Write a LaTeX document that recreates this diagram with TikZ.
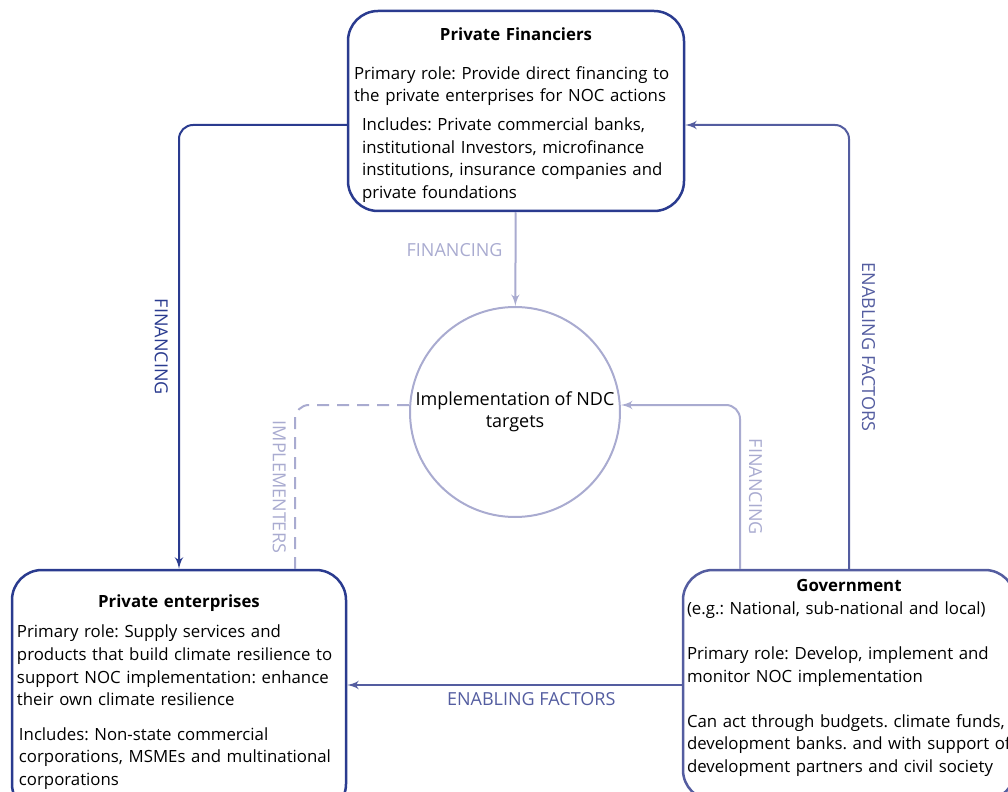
\documentclass[tikz,border=0pt]{standalone}
\usepackage{fontspec}
\setmainfont{Open Sans}
\usetikzlibrary{shapes, arrows, positioning}

\definecolor{navy}{RGB}{42,59,143}
\definecolor{midblue}{RGB}{84,93,160}
\definecolor{lilac}{RGB}{169,171,208}
\frenchspacing

\begin{document}
\begin{tikzpicture}[x=0.5pt, y=-0.5pt, >=latex', font=\fontsize{8.4}{11.3}\selectfont,
  actor/.style={draw=navy, line width=1.25pt, rounded corners=15pt, fill=white, text width=#1, inner sep=0pt},
  flowlbl/.style={font=\fontsize{9}{10}\selectfont, inner sep=4pt}]
  \useasboundingbox (0,0) rectangle (1008,792);
  \clip (0,0) rectangle (1008,792);

  % Akteure: Financiers oben, Enterprises links, Government rechts
  \node[actor=162pt, minimum width=168pt, minimum height=100pt] (fin) at (516,111) {\parindent=0pt
    {\centering\rule{0pt}{10.5pt}\textbf{Private Financiers}\par}\vspace{8pt}
    Primary role: Provide direct financing to\\
    the private enterprises for NOC actions\par\vspace{3pt}
    {\leftskip=4pt Includes: Private commercial banks,\\
    institutional Investors, microfinance\\
    institutions, insurance companies and\\
    private foundations\par}};
  \node[actor=162pt, minimum width=167pt, minimum height=122pt] (ent) at (179,692) {\parindent=0pt
    {\centering\textbf{Private enterprises}\par}\vspace{4pt}
    Primary role: Supply services and\\
    products that build climate resilience to\\
    support NOC implementation: enhance\\
    their own climate resilience\par\vspace{6pt}
    {\leftskip=1pt Includes: Non-state commercial\\
    corporations, MSMEs and multinational\\
    corporations\par}};
  \node[actor=162pt, minimum width=166pt, minimum height=115pt, draw=midblue] (gov) at (849,685) {\parindent=0pt
    {\centering\textbf{Government}\par}
    (e.g.: National, sub-national and local)\par\vspace{11.3pt}
    Primary role: Develop, implement and\\
    monitor NOC implementation\par\vspace{11.3pt}
    Can act through budgets. climate funds,\\
    development banks. and with support of\\
    development partners and civil society\rule[-9pt]{0pt}{9pt}\par};

  % Ziel in der Mitte
  \node[draw=lilac, line width=1pt, circle, minimum size=105pt, inner sep=0pt, align=center, font=\fontsize{9}{11}\selectfont] (ndc) at (515,412) {Implementation of NDC\\targets};

  % Financing flows
  \draw[->, navy, line width=1pt, rounded corners=7pt] ([yshift=-7pt]fin.west) -| node[pos=0.75, rotate=-90, anchor=north, flowlbl, navy, inner sep=5pt]{FINANCING} (ent.north);
  \draw[->, lilac, line width=1pt] (fin) -- node[pos=0.4, left, flowlbl, inner sep=6pt]{FINANCING} (ndc);
  \draw[->, lilac, line width=1pt, rounded corners=7pt] ([xshift=-54.5pt]gov.north) |- node[pos=0.25, rotate=-90, anchor=south, flowlbl]{FINANCING} ([yshift=3.5pt]ndc.east);

  % Enabling factors from government
  \draw[->, midblue, line width=1pt, rounded corners=7pt] (gov.north) |- node[pos=0.25, rotate=-90, anchor=south, flowlbl, inner sep=6pt]{ENABLING FACTORS} ([yshift=-7pt]fin.east);
  \draw[->, midblue, line width=1pt] (gov.west) -- node[pos=0.45, below, flowlbl, inner sep=3pt]{ENABLING FACTORS} ([yshift=3.5pt]ent.east);

  % Implementers (gestrichelt)
  \draw[lilac, line width=1pt, dashed, dash pattern=on 6pt off 4pt, rounded corners=7pt] ([yshift=3.5pt]ndc.west) -| node[pos=0.75, rotate=-90, anchor=north, flowlbl]{IMPLEMENTERS} ([xshift=58pt]ent.north);
\end{tikzpicture}
\end{document}
